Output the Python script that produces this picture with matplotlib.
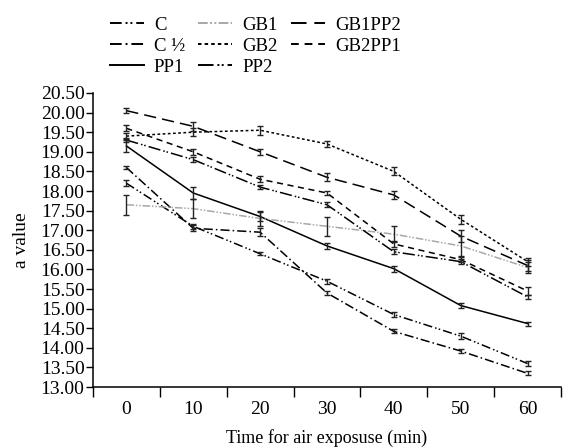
# coding: utf-8
"""a value of samples against time of air exposure."""

import numpy as np
from matplotlib import pyplot as plt
from matplotlib.lines import Line2D

plt.rcParams["font.family"] = ["Liberation Serif", "DejaVu Serif"]

# Data
times = [0, 10, 20, 30, 40, 50, 60]
groups = ["C", "C \u00bd", "PP1", "GB1", "GB2", "PP2", "GB1PP2", "GB2PP1"]

c = [18.2, 17.1, 16.4, 15.7, 14.85, 14.3, 13.6]
c_err = [0.07, 0.06, 0.04, 0.06, 0.06, 0.07, 0.07]
c_half = [18.6, 17.05, 16.95, 15.4, 14.42, 13.92, 13.35]
c_half_err = [0.05, 0.08, 0.1, 0.05, 0.05, 0.05, 0.05]
pp1 = [19.15, 17.95, 17.35, 16.6, 16.02, 15.08, 14.62]
pp1_err = [0.15, 0.15, 0.12, 0.08, 0.08, 0.06, 0.05]
gb1 = [17.65, 17.55, 17.3, 17.1, 16.9, 16.6, 16.05]
gb1_err = [0.25, 0.25, 0.2, 0.25, 0.2, 0.25, 0.15]
gb2 = [19.4, 19.5, 19.55, 19.2, 18.5, 17.28, 16.2]
gb2_err = [0.08, 0.1, 0.12, 0.08, 0.1, 0.12, 0.1]
pp2 = [19.3, 18.8, 18.1, 17.65, 16.45, 16.2, 15.3]
pp2_err = [0.06, 0.06, 0.06, 0.07, 0.06, 0.06, 0.06]
gb1pp2 = [20.05, 19.65, 19.0, 18.35, 17.9, 16.85, 16.1]
gb1pp2_err = [0.07, 0.12, 0.08, 0.1, 0.1, 0.15, 0.15]
gb2pp1 = [19.6, 19.0, 18.3, 17.95, 16.65, 16.25, 15.45]
gb2pp1_err = [0.08, 0.08, 0.08, 0.06, 0.08, 0.06, 0.1]

values = [c, c_half, pp1, gb1, gb2, pp2, gb1pp2, gb2pp1]
errors = [c_err, c_half_err, pp1_err, gb1_err, gb2_err, pp2_err, gb1pp2_err, gb2pp1_err]

y_ticks = np.arange(13.0, 20.51, 0.5)

# Line styles
styles = [
    dict(color="black", ls=(0, (6, 2, 1, 1.5, 1, 2))),
    dict(color="black", ls=(0, (6, 2, 1, 2))),
    dict(color="black", ls="-"),
    dict(color="#a8a8a8", ls=(0, (5, 1.2, 1, 1.2, 1, 1.2))),
    dict(color="black", ls=(0, (1.8, 1.6))),
    dict(color="black", ls=(0, (8, 2, 1, 1.2, 1, 2))),
    dict(color="black", ls=(0, (8, 4))),
    dict(color="black", ls=(0, (4, 3))),
]

fig = plt.figure(figsize=(5.63, 4.47), dpi=100)
ax = fig.add_axes([0.165, 0.134, 0.8315, 0.658])

positions = np.arange(len(times))
for vals, errs, style in zip(values, errors, styles):
    ax.errorbar(
        positions, vals, yerr=errs, fmt="none", ecolor="#222222",
        elinewidth=1.0, capsize=2.5, capthick=1.0, zorder=3,
    )
    ax.plot(positions, vals, lw=1.1, zorder=2, **style)

# Axes
ax.set_xlim(-0.5, len(times) - 0.5)
ax.set_ylim(13.0, 20.5)
ax.set_yticks(y_ticks)
ax.set_yticklabels([f"{t:.2f}" for t in y_ticks])
ax.set_xticks(np.arange(-0.5, len(times), 1.0))
ax.set_xticklabels([])
ax.set_xticks(positions, minor=True)
ax.set_xticklabels([str(t) for t in times], minor=True)
ax.tick_params(axis="x", which="major", direction="out", length=7, width=1)
ax.tick_params(axis="x", which="minor", length=0, pad=10, labelsize=14)
ax.tick_params(axis="y", direction="out", length=5, width=1, pad=1, labelsize=14)

for side in ["top", "right"]:
    ax.spines[side].set_visible(False)
for side in ["left", "bottom"]:
    ax.spines[side].set_linewidth(1.1)

ax.set_xlabel("Time for air exposuse (min)", fontsize=13, labelpad=8)
ax.set_ylabel("a value", fontsize=14, labelpad=8)

# Legend
legend_handles = [Line2D([], [], lw=1.4, **style) for style in styles]
fig.legend(
    legend_handles, groups, loc="upper left", bbox_to_anchor=(0.165, 1.0),
    ncol=3, frameon=False, fontsize=13.5, handlelength=1.8,
    handletextpad=0.55, columnspacing=0.7, labelspacing=0.2,
)

fig.savefig("out.png", dpi=100)
